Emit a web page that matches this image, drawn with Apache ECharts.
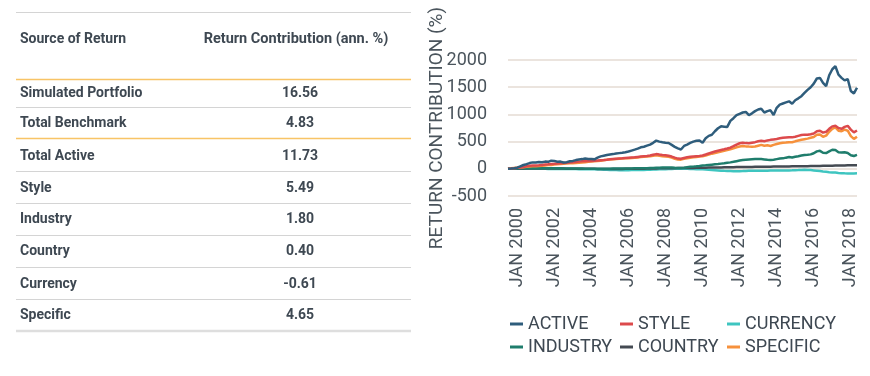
<!DOCTYPE html>
<html>
<head>
<meta charset="utf-8">
<script src="https://cdn.jsdelivr.net/npm/echarts@6/dist/echarts.min.js"></script>
<style>
  html, body { margin: 0; padding: 0; background: #fff; }
  #returnChart { width: 870px; height: 376px; }
</style>
</head>
<body>
<div id="returnChart"></div>
<script>
// table on the left
const tableHeader = ['Source of Return', 'Return Contribution (ann. %)'];
const tableLabels = ['Simulated Portfolio', 'Total Benchmark', 'Total Active', 'Style', 'Industry', 'Country', 'Currency', 'Specific'];
const tableValues = ['16.56', '4.83', '11.73', '5.49', '1.80', '0.40', '-0.61', '4.65'];

// chart: bi-monthly points, Jul 1999 .. May 2018 (one row per year)
const dates = [];
for (let y = 1999; y <= 2018; y++) {
  for (let m = 1; m <= 11; m += 2) {
    if (y === 1999 && m < 7) continue;
    if (y === 2018 && m > 5) continue;
    dates.push(y + '-' + String(m).padStart(2, '0'));
  }
}
const seriesNames = ['ACTIVE', 'STYLE', 'CURRENCY', 'INDUSTRY', 'COUNTRY', 'SPECIFIC'];

const active = [
  0, 5, 12,
  20, 45, 70, 85, 105, 118,
  115, 125, 120, 132, 128, 150,
  145, 130, 132, 115, 122, 138,
  145, 160, 172, 178, 188, 182,
  180, 175, 205, 228, 240, 252,
  262, 270, 280, 288, 295, 305,
  318, 335, 352, 370, 395, 405,
  425, 445, 478, 518, 500, 488,
  480, 475, 440, 404, 375, 355,
  420, 445, 475, 500, 515, 520,
  480, 560, 605, 625, 690, 745,
  780, 775, 770, 880, 930, 985,
  1010, 1035, 1045, 985, 1020, 1060,
  1090, 1105, 1035, 1060, 1075, 990,
  1120, 1180, 1200, 1220, 1240, 1195,
  1260, 1295, 1335, 1395, 1450, 1500,
  1565, 1660, 1670, 1580, 1520, 1720,
  1830, 1885, 1730, 1672, 1625, 1650,
  1430, 1385, 1490
];
const style = [
  0, 5, 12,
  18, 25, 32, 45, 55, 60,
  62, 65, 72, 78, 82, 88,
  92, 98, 102, 106, 110, 115,
  120, 126, 132, 138, 140, 142,
  145, 148, 152, 158, 162, 168,
  175, 180, 184, 188, 192, 198,
  203, 208, 212, 218, 224, 230,
  236, 245, 258, 270, 262, 255,
  250, 240, 225, 205, 188, 185,
  200, 212, 220, 226, 232, 236,
  245, 262, 282, 300, 318, 332,
  345, 358, 372, 388, 415, 445,
  470, 480, 472, 470, 480, 490,
  505, 515, 508, 522, 532, 540,
  548, 560, 570, 575, 580, 578,
  590, 605, 620, 628, 625, 635,
  650, 690, 700, 665, 680, 735,
  780, 790, 750, 735, 770, 790,
  720, 670, 705
];
const currency = [
  0, 0, 1,
  1, 2, 2, 2, 1, 1,
  0, 0, -1, -1, -2, -2,
  -2, -3, -3, -3, -4, -4,
  -5, -5, -6, -6, -7, -8,
  -8, -10, -12, -14, -16, -18,
  -20, -22, -24, -25, -24, -25,
  -26, -24, -22, -22, -20, -20,
  -18, -16, -15, -12, -10, -8,
  -6, -4, -2, 0, 2, 3,
  2, 0, -2, -4, -6, -8,
  -10, -14, -18, -22, -26, -30,
  -35, -38, -40, -42, -44, -44,
  -43, -42, -40, -38, -38, -37,
  -36, -35, -34, -34, -33, -32,
  -32, -31, -30, -30, -29, -28,
  -26, -24, -20, -18, -20, -24,
  -30, -36, -42, -50, -56, -62,
  -66, -70, -76, -80, -84, -86,
  -88, -86, -84
];
const industry = [
  0, 2, 4,
  5, 6, 8, 8, 10, 10,
  10, 10, 12, 12, 12, 10,
  10, 8, 8, 6, 6, 5,
  5, 4, 4, 4, 3, 3,
  2, 2, 2, 2, 2, 3,
  3, 4, 5, 5, 5, 6,
  6, 7, 8, 8, 10, 10,
  12, 14, 16, 18, 20, 22,
  24, 25, 22, 18, 15, 15,
  20, 28, 36, 40, 45, 52,
  60, 64, 70, 76, 82, 88,
  95, 102, 110, 118, 128, 140,
  152, 160, 165, 170, 175, 180,
  182, 178, 172, 165, 160, 168,
  178, 188, 192, 205, 215, 208,
  220, 232, 245, 255, 258, 265,
  285, 320, 330, 295, 290, 320,
  350, 345, 305, 300, 305, 290,
  250, 235, 255
];
const country = [
  0, 1, 2,
  2, 3, 3, 4, 4, 5,
  5, 5, 5, 6, 6, 6,
  5, 5, 4, 4, 3, 3,
  2, 2, 1, 1, 0, 0,
  -1, -1, -2, -2, -3, -3,
  -3, -3, -2, -2, -2, -1,
  -1, 0, 0, 1, 2, 3,
  4, 5, 6, 7, 8, 8,
  9, 11, 10, 12, 13, 13,
  14, 16, 15, 17, 18, 19,
  20, 21, 22, 22, 24, 25,
  26, 27, 28, 28, 30, 31,
  32, 33, 33, 34, 35, 36,
  36, 37, 38, 38, 39, 40,
  40, 41, 42, 43, 44, 45,
  46, 46, 47, 48, 49, 50,
  51, 52, 53, 54, 55, 57,
  58, 59, 60, 61, 62, 63,
  63, 64, 65
];
const specific = [
  0, 8, 15,
  20, 25, 30, 36, 40, 45,
  48, 52, 58, 62, 68, 72,
  78, 82, 88, 92, 96, 100,
  104, 108, 112, 115, 120, 128,
  135, 140, 145, 150, 158, 165,
  170, 175, 180, 184, 188, 192,
  196, 200, 204, 208, 215, 220,
  226, 232, 240, 248, 240, 232,
  228, 222, 205, 185, 170, 168,
  182, 195, 202, 210, 218, 225,
  232, 245, 260, 278, 292, 305,
  318, 332, 345, 358, 375, 395,
  410, 420, 412, 408, 405, 410,
  425, 440, 425, 432, 420, 440,
  455, 470, 478, 482, 490, 488,
  505, 520, 535, 545, 555, 570,
  585, 625, 632, 590, 610, 680,
  735, 760, 700, 690, 720, 700,
  600, 550, 590
];

const seriesData = [active, style, currency, industry, country, specific];
const colors = ['#2f5d7c', '#dc4a4c', '#3ec5c0', '#1f7d6c', '#444a52', '#f6913c'];
const zOrder = [8, 7, 3, 5, 4, 6];

const textColor = '#3e4852';
const axisColor = '#4a545c';
const fontFamily = 'Roboto, "DejaVu Sans", sans-serif';

// build the table with graphic elements
const rowY = [93, 123, 156, 188, 219, 251, 284, 315];
const ruleY = [107.5, 138.5, 171.5, 203.5, 235.5, 267.5, 299.5];
const graphic = [];
function hLine(y, color, w) {
  graphic.push({
    type: 'line', silent: true,
    shape: { x1: 16, y1: y, x2: 411, y2: y },
    style: { stroke: color, lineWidth: w }
  });
}
function cellText(x, y, text, align, size) {
  graphic.push({
    type: 'text', silent: true, x: x, y: y,
    style: {
      text: text, fill: textColor, font: 'bold ' + size + 'px ' + fontFamily,
      align: align, verticalAlign: 'middle'
    }
  });
}
hLine(12.5, '#d4d4d4', 1);
cellText(20, 39, tableHeader[0], 'left', 14);
cellText(296, 39, tableHeader[1], 'center', 14.5);
hLine(79.5, '#f8c466', 1.5);
tableLabels.forEach((label, i) => {
  cellText(20, rowY[i], label, 'left', 14);
  cellText(300, rowY[i], tableValues[i], 'center', 14);
});
ruleY.forEach((y, i) => hLine(y, i === 1 ? '#f8c466' : '#d4d4d4', i === 1 ? 1.5 : 1));
hLine(331, '#dedede', 2.5);

// one legend per item so the three columns line up
const legendLeft = [510, 620, 727];
const legendTop = [315, 338];
const legends = seriesNames.map((name, i) => ({
  data: [name],
  left: legendLeft[i % 3],
  top: legendTop[Math.floor(i / 3)],
  padding: 0,
  icon: 'rect', itemWidth: 13, itemHeight: 3,
  textStyle: { color: textColor, fontSize: 18, fontFamily: fontFamily }
}));

const myChart = echarts.init(document.getElementById('returnChart'));
const option = {
  animation: false,
  color: colors,
  textStyle: { fontFamily: fontFamily },
  graphic: graphic,
  legend: legends,
  grid: { left: 508, right: 13, top: 60, bottom: 180, containLabel: false },
  xAxis: {
    type: 'category',
    data: dates,
    boundaryGap: false,
    axisLine: { show: false },
    axisTick: { show: false },
    axisLabel: {
      rotate: 90,
      margin: 12,
      color: axisColor,
      fontSize: 18,
      fontFamily: fontFamily,
      interval: (i, v) => v.endsWith('-01') && Number(v.slice(0, 4)) % 2 === 0,
      formatter: v => 'JAN ' + v.slice(0, 4)
    }
  },
  yAxis: {
    type: 'value',
    min: -500,
    max: 2000,
    interval: 500,
    name: 'RETURN CONTRIBUTION (%)',
    nameLocation: 'middle',
    nameGap: 61,
    nameMoveOverlap: false,
    nameTextStyle: { color: axisColor, fontSize: 19, fontFamily: fontFamily },
    axisLine: { show: false },
    axisTick: { show: false },
    axisLabel: {
      color: axisColor, fontSize: 18, margin: 21, fontFamily: fontFamily,
      formatter: v => String(v)
    },
    splitLine: { lineStyle: { color: '#ebe4de', width: 2 } }
  },
  series: seriesNames.map((name, i) => ({
    name: name,
    type: 'line',
    data: seriesData[i],
    z: zOrder[i],
    symbol: 'none',
    lineStyle: { width: 2.5, color: colors[i] },
    itemStyle: { color: colors[i] }
  }))
};
myChart.setOption(option);
</script>
</body>
</html>
